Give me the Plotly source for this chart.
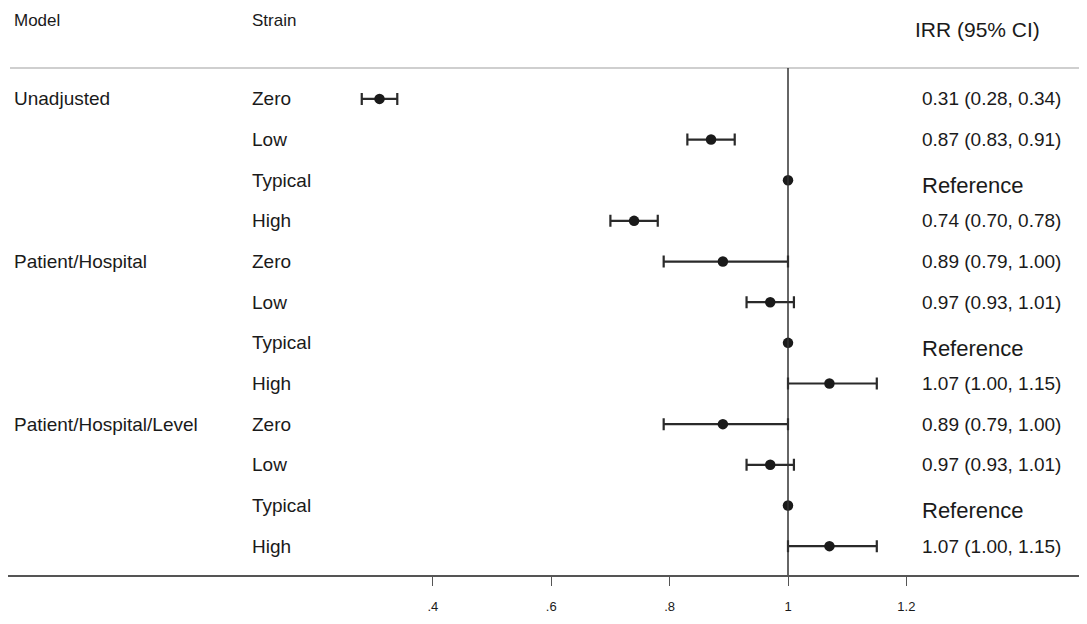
import plotly.graph_objects as go

# ---- data ----
models = ["Unadjusted", "Patient/Hospital", "Patient/Hospital/Level"]
strains = ["Zero", "Low", "Typical", "High"]
irr = [0.31, 0.87, 1.00, 0.74, 0.89, 0.97, 1.00, 1.07, 0.89, 0.97, 1.00, 1.07]
ci_lo = [0.28, 0.83, None, 0.70, 0.79, 0.93, None, 1.00, 0.79, 0.93, None, 1.00]
ci_hi = [0.34, 0.91, None, 0.78, 1.00, 1.01, None, 1.15, 1.00, 1.01, None, 1.15]
tick_vals = [0.4, 0.6, 0.8, 1.0, 1.2]
tick_text = [".4", ".6", ".8", "1", "1.2"]

# page body has an 8px margin; work in screen pixels and convert
OFF = 8
W, H = 1087 - 2 * OFF, 624 - 2 * OFF
ML, MR, MT, MB = 0, 0, 68 - OFF, H - (575 - OFF)
PW, PH = W - ML - MR, H - MT - MB
FONT = "Liberation Sans, Arial, sans-serif"
INK = "#1a1a1a"

def px(X):
    return (X - OFF - ML) / PW

def py(Y):
    return (H - MB - (Y - OFF)) / PH

# x value at a screen pixel (value 0 at screen 196, 592 px per unit)
def xv(X):
    return (X - 196) / 592

n = len(irr)
rows = list(range(n))
row_strain = [s for _ in models for s in strains]

ci_idx = [i for i in rows if ci_lo[i] is not None]
ref_idx = [i for i in rows if ci_lo[i] is None]

fig = go.Figure()
fig.add_trace(go.Scatter(
    x=[irr[i] for i in ci_idx], y=[rows[i] for i in ci_idx],
    mode="markers",
    marker=dict(size=10.5, color=INK),
    error_x=dict(type="data", symmetric=False,
                 array=[ci_hi[i] - irr[i] for i in ci_idx],
                 arrayminus=[irr[i] - ci_lo[i] for i in ci_idx],
                 thickness=2.2, width=6, color="#2a2a2a"),
    hoverinfo="skip",
))
fig.add_trace(go.Scatter(
    x=[irr[i] for i in ref_idx], y=[rows[i] for i in ref_idx],
    mode="markers", marker=dict(size=10.5, color=INK), hoverinfo="skip",
))

ann = []
# headers
ann.append(dict(x=px(12), y=py(21), text="Model", font=dict(size=17)))
ann.append(dict(x=px(250), y=py(21), text="Strain", font=dict(size=17)))
ann.append(dict(x=px(913), y=py(29), text="IRR (95% CI)", font=dict(size=21)))
# model labels
for k, m in enumerate(models):
    ann.append(dict(x=px(12), y=k * len(strains), yref="y",
                    text=m, font=dict(size=19)))
# strain labels and IRR texts
for i in rows:
    ann.append(dict(x=px(250), y=i, yref="y", text=row_strain[i], font=dict(size=19)))
    if ci_lo[i] is None:
        ann.append(dict(x=px(920), y=i + 0.13, yref="y", text="Reference",
                        font=dict(size=22)))
    else:
        ann.append(dict(x=px(920), y=i, yref="y",
                        text=f"{irr[i]:.2f} ({ci_lo[i]:.2f}, {ci_hi[i]:.2f})",
                        font=dict(size=19)))
for a in ann:
    a.setdefault("xref", "paper")
    a.setdefault("yref", "paper")
    a.update(xanchor="left", yanchor="middle", showarrow=False)
    a["font"].update(family=FONT, color=INK)

shapes = [
    dict(type="line", xref="paper", yref="paper", x0=px(10), x1=px(1100),
         y0=1, y1=1, line=dict(color="#cfcfcf", width=2)),
    dict(type="line", xref="x", yref="paper", x0=1, x1=1, y0=0, y1=1,
         line=dict(color="#333333", width=1.5)),
]

fig.update_layout(
    width=W, height=H,
    margin=dict(l=ML, r=MR, t=MT, b=MB),
    paper_bgcolor="white", plot_bgcolor="white",
    showlegend=False,
    annotations=ann, shapes=shapes,
    xaxis=dict(range=[xv(OFF + ML), xv(OFF + W - MR)],
               tickvals=tick_vals, ticktext=tick_text,
               showgrid=False, zeroline=False,
               showline=True, linecolor="#555555", linewidth=2,
               ticks="outside", ticklen=9, tickwidth=1, tickcolor="#555555",
               tickfont=dict(family=FONT, size=13, color=INK),
               ticklabelstandoff=9, fixedrange=True),
    yaxis=dict(range=[11.71, -0.76], visible=False, showgrid=False,
               zeroline=False, fixedrange=True),
)

fig.write_html("out.html")
